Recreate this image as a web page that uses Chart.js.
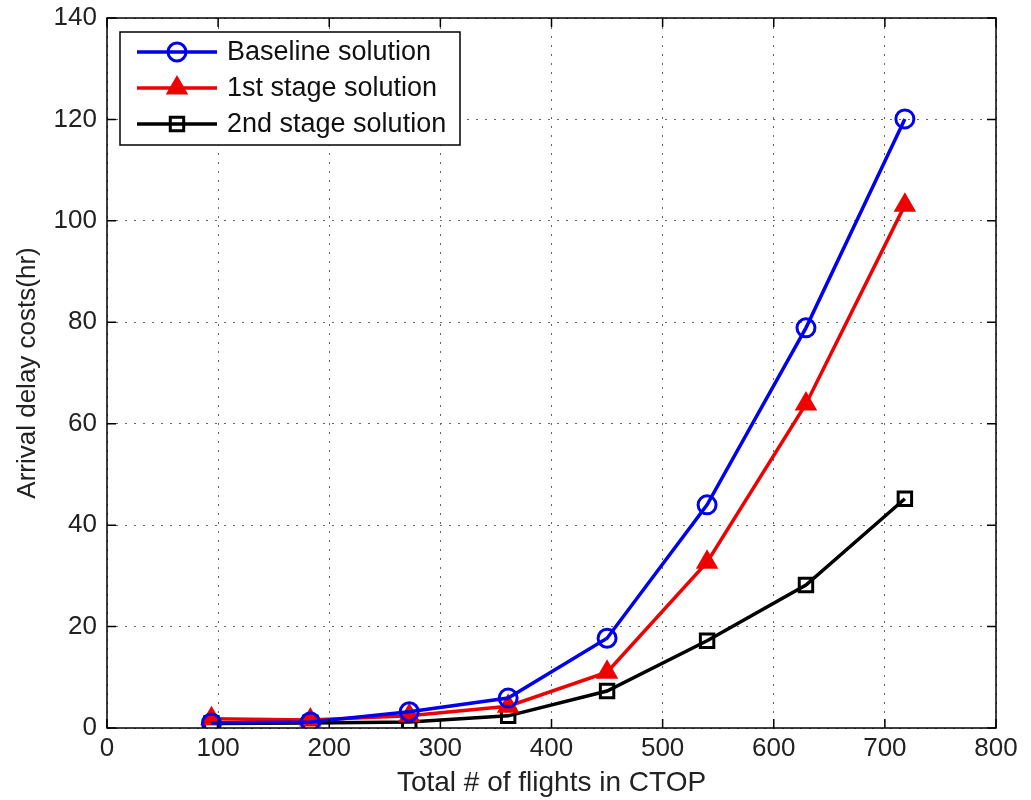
<!DOCTYPE html>
<html lang="en">
<head>
    <meta charset="UTF-8">
    <title>Arrival delay costs</title>
    <script src="https://cdn.jsdelivr.net/npm/chart.js@4.4.0/dist/chart.umd.min.js"></script>
</head>
<style>
    body { margin: 0; background: #fff; }
    #canvas-div { width: 1031px; height: 800px; }
</style>
<body>
    <div id="canvas-div">
        <canvas id="line-chart" width="1031" height="800"></canvas>
    </div>
    <script>
    // data
    var flights = [94, 183, 272, 361, 450, 540, 629, 718];
    var baseline = [1.0, 1.2, 3.2, 5.9, 17.7, 44.0, 78.9, 120.1];
    var stage1 = [1.8, 1.6, 2.4, 4.3, 11.0, 32.7, 63.9, 103.1];
    var stage2 = [0.9, 1.0, 1.2, 2.4, 7.3, 17.2, 28.2, 45.2];
    var xTicks = [0, 100, 200, 300, 400, 500, 600, 700, 800];
    var yTicks = [0, 20, 40, 60, 80, 100, 120, 140];
    var seriesNames = ["Baseline solution", "1st stage solution", "2nd stage solution"];

    var font = "'Liberation Sans', Arial, sans-serif";

    function toPoints(ys) {
        return flights.map(function (x, i) { return { x: x, y: ys[i] }; });
    }

    function drawMarker(ctx, style, r, x, y) {
        if (style === "circle") {
            ctx.arc(x, y, r, 0, Math.PI * 2);
        } else if (style === "rect") {
            var s = Math.SQRT1_2 * r;
            ctx.rect(x - s, y - s, 2 * s, 2 * s);
        } else {
            ctx.moveTo(x, y - r);
            ctx.lineTo(x + r * 0.866, y + r * 0.5);
            ctx.lineTo(x - r * 0.866, y + r * 0.5);
            ctx.closePath();
        }
    }

    // box around the plot, inward ticks, and the legend drawn inside the plot
    var matlabBox = {
        id: "matlabBox",
        afterDatasetsDraw: function (chart) {
            var ctx = chart.ctx;
            var a = chart.chartArea;
            var xs = chart.scales.x, ys = chart.scales.y;
            ctx.save();
            ctx.strokeStyle = "#000";
            ctx.lineWidth = 1.5;
            ctx.strokeRect(a.left, a.top, a.right - a.left, a.bottom - a.top);
            ctx.beginPath();
            xTicks.forEach(function (t) {
                var px = xs.getPixelForValue(t);
                ctx.moveTo(px, a.bottom); ctx.lineTo(px, a.bottom - 9);
                ctx.moveTo(px, a.top); ctx.lineTo(px, a.top + 9);
            });
            yTicks.forEach(function (t) {
                var py = ys.getPixelForValue(t);
                ctx.moveTo(a.left, py); ctx.lineTo(a.left + 9, py);
                ctx.moveTo(a.right, py); ctx.lineTo(a.right - 9, py);
            });
            ctx.stroke();

            // legend
            var bx = 120, by = 32, bw = 340, bh = 113;
            ctx.fillStyle = "#fff";
            ctx.fillRect(bx, by, bw, bh);
            ctx.lineWidth = 1.5;
            ctx.strokeStyle = "#000";
            ctx.strokeRect(bx, by, bw, bh);
            ctx.font = "27px " + font;
            ctx.textBaseline = "middle";
            chart.data.datasets.forEach(function (ds, i) {
                var cy = by + 20 + i * 36;
                ctx.strokeStyle = ds.borderColor;
                ctx.lineWidth = ds.borderWidth;
                ctx.beginPath();
                ctx.moveTo(bx + 17, cy); ctx.lineTo(bx + 97, cy);
                ctx.stroke();
                ctx.fillStyle = ds.pointBackgroundColor;
                ctx.lineWidth = ds.pointBorderWidth;
                ctx.beginPath();
                drawMarker(ctx, ds.pointStyle, ds.pointRadius, bx + 57, cy);
                ctx.fill();
                ctx.stroke();
                ctx.fillStyle = "#111";
                ctx.fillText(ds.label, bx + 107, cy + 1);
            });
            ctx.restore();
        }
    };

    new Chart(document.getElementById("line-chart"), {
        type: "line",
        data: {
            datasets: [{
                label: seriesNames[0],
                data: toPoints(baseline),
                borderColor: "#0000ee",
                borderWidth: 3.5,
                pointStyle: "circle",
                pointRadius: 9,
                pointBorderWidth: 3,
                pointBackgroundColor: "rgba(0,0,0,0)",
                pointBorderColor: "#0000ee",
                fill: false
            }, {
                label: seriesNames[1],
                data: toPoints(stage1),
                borderColor: "#ee0000",
                borderWidth: 3.5,
                pointStyle: "triangle",
                pointRadius: 11,
                pointBorderWidth: 2,
                pointBackgroundColor: "#ee0000",
                pointBorderColor: "#ee0000",
                fill: false
            }, {
                label: seriesNames[2],
                data: toPoints(stage2),
                borderColor: "#000000",
                borderWidth: 3.5,
                pointStyle: "rect",
                pointRadius: 9.5,
                pointBorderWidth: 3,
                pointBackgroundColor: "rgba(0,0,0,0)",
                pointBorderColor: "#000000",
                fill: false
            }]
        },
        options: {
            responsive: false,
            animation: false,
            layout: { padding: { top: 18, right: 35, left: 0, bottom: 0 } },
            plugins: { legend: { display: false }, tooltip: { enabled: false } },
            scales: {
                x: {
                    type: "linear",
                    min: 0, max: 800,
                    afterBuildTicks: function (s) { s.ticks = xTicks.map(function (v) { return { value: v }; }); },
                    afterFit: function (s) { s.height = 72; s.paddingLeft = 0; s.paddingRight = 0; },
                    grid: { color: "#666", lineWidth: 1, drawTicks: false },
                    border: { display: false, dash: [2, 7] },
                    ticks: { color: "#222", font: { family: font, size: 26 }, padding: 5, maxRotation: 0 },
                    title: { display: true, text: "Total # of flights in CTOP", color: "#222", font: { family: font, size: 28 }, padding: { top: 0, bottom: 0 } }
                },
                y: {
                    min: 0, max: 140,
                    afterBuildTicks: function (s) { s.ticks = yTicks.map(function (v) { return { value: v }; }); },
                    afterFit: function (s) { s.width = 107; s.paddingTop = 0; s.paddingBottom = 0; },
                    grid: { color: "#666", lineWidth: 1, drawTicks: false },
                    border: { display: false, dash: [2, 7] },
                    ticks: { color: "#222", font: { family: font, size: 26 }, padding: 10 },
                    title: { display: true, text: "Arrival delay costs(hr)", color: "#222", font: { family: font, size: 26 }, padding: { top: 12, bottom: 0 } }
                }
            }
        },
        plugins: [matlabBox]
    });
    </script>
</body>
</html>
